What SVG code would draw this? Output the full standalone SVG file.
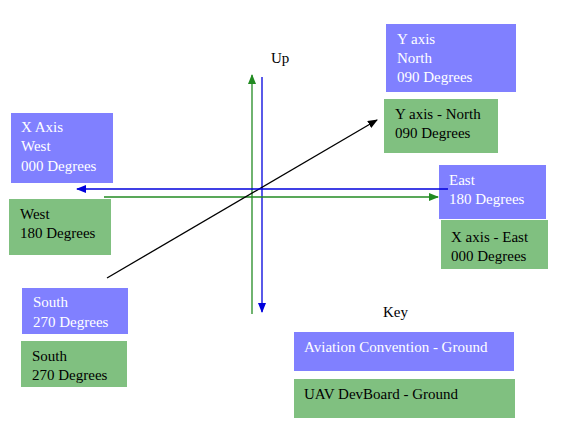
<svg xmlns="http://www.w3.org/2000/svg" width="561" height="447" viewBox="0 0 561 447">
<style>
text{font-family:'Liberation Serif','DejaVu Serif',serif;font-size:15px}
.b{fill:#8080ff}
.g{fill:#80c080}
.bt{fill:#ffffff}
.gt{fill:#000000}
.lb{stroke:#0000dd;stroke-width:1.3;fill:none}
.lg{stroke:#228b22;stroke-width:1.3;fill:none}
.lk{stroke:#000000;stroke-width:1.3;fill:none}
</style>
<defs>
<marker id="ab" markerWidth="10" markerHeight="8" refX="9" refY="4" orient="auto" markerUnits="userSpaceOnUse"><path d="M0,0 L10,4 L0,8 z" fill="#0000dd"/></marker>
<marker id="ag" markerWidth="10" markerHeight="8" refX="9" refY="4" orient="auto" markerUnits="userSpaceOnUse"><path d="M0,0 L10,4 L0,8 z" fill="#228b22"/></marker>
<marker id="ak" markerWidth="10" markerHeight="8" refX="9" refY="4" orient="auto" markerUnits="userSpaceOnUse"><path d="M0,0 L10,4 L0,8 z" fill="#000000"/></marker>
</defs>
<rect width="561" height="447" fill="#ffffff"/>
<g id="connectors">
<line class="lg" x1="252" y1="314" x2="252" y2="75" marker-end="url(#ag)"/>
<line class="lb" x1="262" y1="77" x2="262" y2="312" marker-end="url(#ab)"/>
<line class="lg" x1="104" y1="197" x2="438" y2="197" marker-end="url(#ag)"/>
<line class="lk" x1="107" y1="278" x2="377" y2="120" marker-end="url(#ak)"/>
</g>
<g font-family="Liberation Serif, DejaVu Serif, serif" font-size="15">
<g id="n-xaxis-west"><rect class="b" x="11" y="113" width="102" height="70"/><text class="bt" x="21" y="132">X Axis</text><text class="bt" x="21" y="151">West</text><text class="bt" x="21" y="171">000 Degrees</text></g>
<g id="n-west"><rect class="g" x="9" y="199" width="102" height="56"/><text class="gt" x="20" y="219">West</text><text class="gt" x="20" y="238">180 Degrees</text></g>
<g id="n-yaxis-north"><rect class="b" x="386" y="24" width="130" height="68"/><text class="bt" x="397" y="44">Y axis</text><text class="bt" x="397" y="63">North</text><text class="bt" x="397" y="82">090 Degrees</text></g>
<g id="n-yaxis-north-g"><rect class="g" x="384" y="99" width="114" height="54"/><text class="gt" x="395" y="119">Y axis - North</text><text class="gt" x="395" y="138">090 Degrees</text></g>
<g id="n-east"><rect class="b" x="439" y="165" width="107" height="54"/><text class="bt" x="449" y="185">East</text><text class="bt" x="449" y="204">180 Degrees</text></g>
<g id="n-xaxis-east"><rect class="g" x="441" y="220" width="107" height="49"/><text class="gt" x="451" y="242">X axis - East</text><text class="gt" x="451" y="261">000 Degrees</text></g>
<g id="n-south"><rect class="b" x="22" y="288" width="106" height="46"/><text class="bt" x="33" y="307">South</text><text class="bt" x="33" y="327">270 Degrees</text></g>
<g id="n-south-g"><rect class="g" x="21" y="341" width="106" height="46"/><text class="gt" x="32" y="361">South</text><text class="gt" x="32" y="380">270 Degrees</text></g>
<g id="connectors-blue-h">
<line class="lb" x1="448" y1="189" x2="77" y2="189" marker-end="url(#ab)"/>
</g>
<g id="n-up"><text class="gt" x="271" y="63">Up</text></g>
<g id="n-key"><text class="gt" x="383" y="317">Key</text></g>
<g id="n-key-aviation"><rect class="b" x="294" y="332" width="220" height="39"/><text class="bt" x="304" y="352">Aviation Convention - Ground</text></g>
<g id="n-key-uav"><rect class="g" x="294" y="379" width="221" height="39"/><text class="gt" x="304" y="399">UAV DevBoard - Ground</text></g>
</g>
</svg>
